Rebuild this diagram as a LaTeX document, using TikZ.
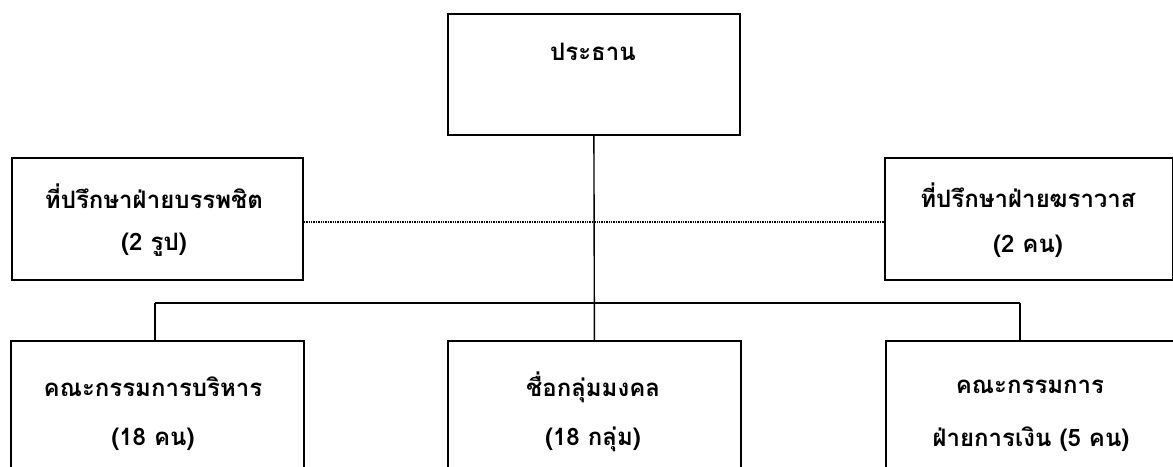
\documentclass[tikz,border=0pt]{standalone}
\usepackage{fontspec}
\setmainfont[Script=Thai]{Loma}
\begin{document}
\begin{tikzpicture}[x=1pt,y=-1pt,
  box/.style={draw, line width=1.8pt, rectangle, inner sep=0pt, anchor=north west},
  lbl/.style={font=\fontsize{24}{28}\selectfont\bfseries, inner sep=0pt},
  link/.style={line width=1.4pt},
  dotlink/.style={line width=1.4pt, dash pattern=on 1.3pt off 1.1pt}]
\useasboundingbox (0,0) rectangle (1173,466);
\fill[white] (0,0) rectangle (1173,466);
% boxes
\node[box, minimum width=292pt, minimum height=121pt] (top) at (447,13) {};
\node[box, minimum width=291pt, minimum height=122pt] (lmid) at (11,157) {};
\node[box, minimum width=288pt, minimum height=122pt] (rmid) at (884,157) {};
\node[box, minimum width=293pt, minimum height=160pt] (lbot) at (10,340) {};
\node[box, minimum width=293pt, minimum height=160pt] (mbot) at (447,340) {};
\node[box, minimum width=295pt, minimum height=160pt] (rbot) at (885,340) {};
% texts
\node[lbl] (ttop) at (593,52) {ประธาน};
\node[lbl] (tlm1) at (154,196) {ที่ปรึกษาฝ่ายบรรพชิต};
\node[lbl] (tlm2) at (154,245) {(2 รูป)};
\node[lbl] (trm1) at (1028,195) {ที่ปรึกษาฝ่ายฆราวาส};
\node[lbl] (trm2) at (1028,246) {(2 คน)};
\node[lbl] (tlb1) at (153,387) {คณะกรรมการบริหาร};
\node[lbl] (tlb2) at (153,439) {(18 คน)};
\node[lbl] (tmb1) at (593,387) {ชื่อกลุ่มมงคล};
\node[lbl] (tmb2) at (593,439) {(18 กลุ่ม)};
\node[lbl] (trb1) at (1030,387) {คณะกรรมการ};
\node[lbl] (trb2) at (1031,439) {ฝ่ายการเงิน (5 คน)};
% connectors
\coordinate (busL) at (155,303);
\coordinate (busR) at (1020,303);
\draw[link] (top.south) -- (mbot.north);
\draw[link] (busL) -- (busR);
\draw[link] (busL) -- (busL |- lbot.north);
\draw[link] (busR) -- (busR |- rbot.north);
\draw[dotlink] ([yshift=-3pt]lmid.east) -- ([yshift=-3pt]rmid.west);
\end{tikzpicture}
\end{document}
